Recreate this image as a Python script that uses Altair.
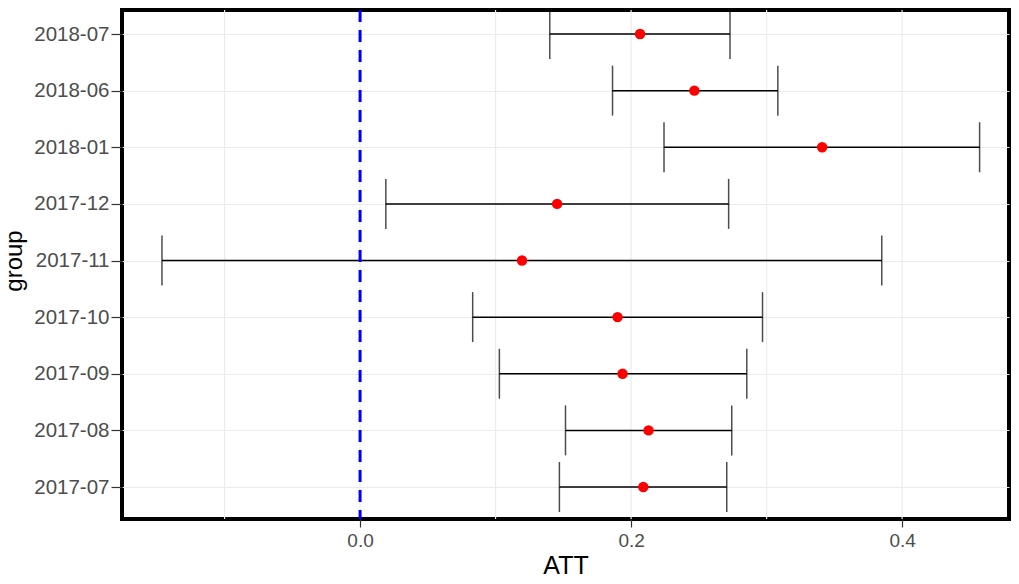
import altair as alt
import pandas as pd

groups = ["2018-07", "2018-06", "2018-01", "2017-12", "2017-11",
          "2017-10", "2017-09", "2017-08", "2017-07"]
att = [0.2066, 0.2467, 0.3410, 0.1454, 0.1195, 0.1900, 0.1937, 0.2129, 0.2090]
lower = [0.1400, 0.1863, 0.2243, 0.0190, -0.1462, 0.0831, 0.1028, 0.1516, 0.1471]
upper = [0.2730, 0.3083, 0.4572, 0.2720, 0.3850, 0.2970, 0.2854, 0.2743, 0.2706]
zero_line = [0.0]
x_ticks = [-0.1, 0.0, 0.1, 0.2, 0.3, 0.4]

df = pd.DataFrame({"group": groups, "ATT": att, "lower": lower, "upper": upper})
zdf = pd.DataFrame({"z": zero_line})
gdf = pd.DataFrame({"g": x_ticks})

W = 887
H = 509
xscale = alt.Scale(domain=[-0.1757, 0.4789], nice=False, zero=False)
yscale = alt.Scale(type="point", domain=groups, range=[24, 477], padding=0)

xaxis = alt.Axis(
    title="ATT", values=x_ticks,
    labelExpr="round(datum.value*10) % 2 === 0 ? format(datum.value, '.1f') : ''",
    tickOpacity={"condition": {"test": "round(datum.value*10) % 2 !== 0", "value": 0}, "value": 1},
    grid=False, domain=False,
    tickColor="#333333", tickSize=8, tickWidth=1.2,
    labelColor="#4D4D4D", labelFontSize=19, labelPadding=4, labelFont="Liberation Sans",
    titleFont="Liberation Sans", titleFontSize=25, titleFontWeight="normal", titleColor="black",
    titleBaseline="alphabetic", titleY=54,
)
yaxis = alt.Axis(
    title="group", grid=True, gridColor="#EBEBEB", gridWidth=1.2, domain=False,
    tickColor="#333333", tickSize=11, tickWidth=1.2,
    labelColor="#4D4D4D", labelFontSize=20.5, labelPadding=2, labelFont="Liberation Sans",
    titleFont="Liberation Sans", titleFontSize=24, titleFontWeight="normal", titleColor="black",
    titleBaseline="alphabetic", titleX=-101,
)

base = alt.Chart(df)

grid = alt.Chart(gdf).mark_rule(color="#EBEBEB", strokeWidth=1.2).encode(
    x=alt.X("g:Q", scale=xscale, axis=xaxis),
    y=alt.value(0), y2=alt.value(H),
)
bars = base.mark_rule(color="black", strokeWidth=1.5).encode(
    x=alt.X("lower:Q", scale=xscale),
    x2="upper:Q",
    y=alt.Y("group:N", scale=yscale, axis=yaxis),
)
cap_lo = base.mark_tick(color="black", thickness=1.5, size=50, orient="vertical").encode(
    x=alt.X("lower:Q", scale=xscale), y=alt.Y("group:N", scale=yscale))
cap_hi = base.mark_tick(color="black", thickness=1.5, size=50, orient="vertical").encode(
    x=alt.X("upper:Q", scale=xscale), y=alt.Y("group:N", scale=yscale))
pts = base.mark_circle(color="red", size=110, opacity=1).encode(
    x=alt.X("ATT:Q", scale=xscale), y=alt.Y("group:N", scale=yscale))
zline = alt.Chart(zdf).mark_rule(color="#0000FF", strokeWidth=3, strokeDash=[12, 8]).encode(
    x=alt.X("z:Q", scale=xscale))

chart = alt.layer(grid, bars, cap_lo, cap_hi, zline, pts).properties(
    width=W, height=H,
    autosize="none",
    padding={"left": 114, "top": 2, "right": 2, "bottom": 57},
).configure(
    background="white",
    view=alt.ViewConfig(stroke="black", strokeWidth=4, fill="white"),
)

chart.save("out.html", embed_options={"renderer": "svg", "actions": False})
